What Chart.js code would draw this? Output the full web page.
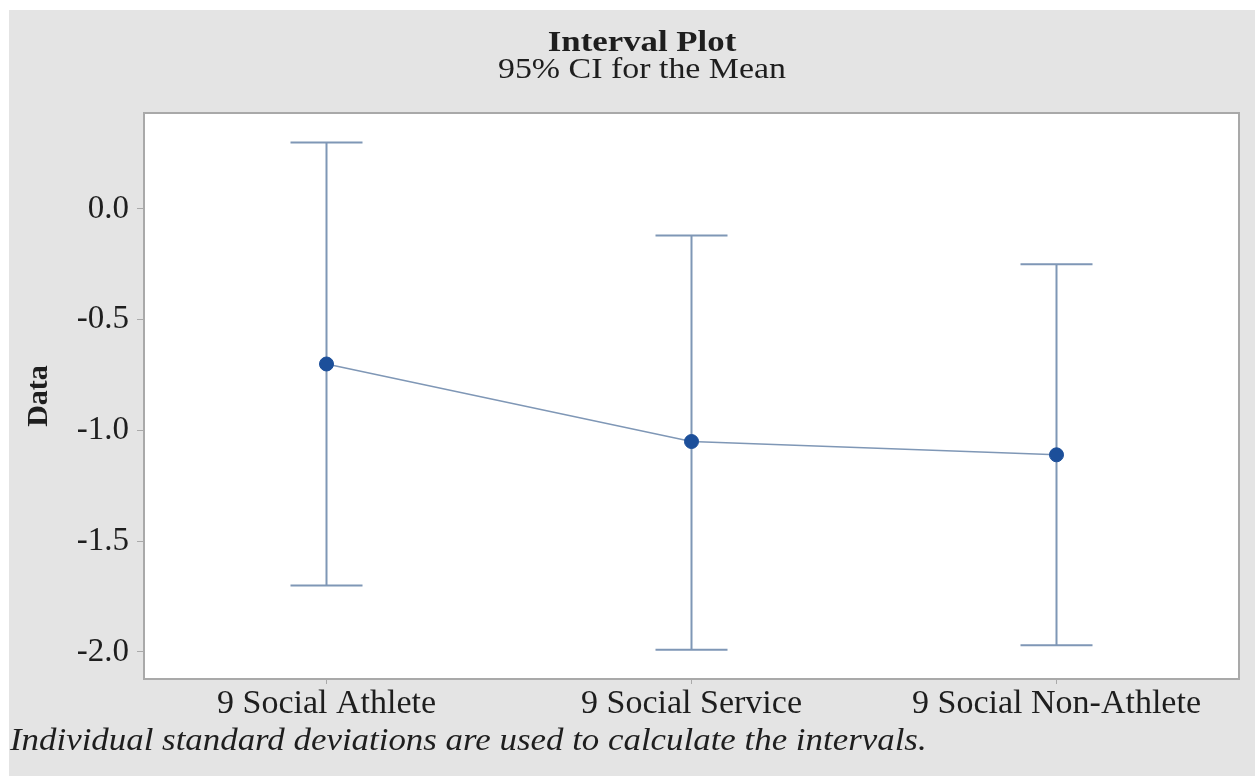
<!DOCTYPE html>
<html>
<head>
<meta charset="utf-8">
<script src="https://cdn.jsdelivr.net/npm/chart.js@4.4.1/dist/chart.umd.min.js"></script>
<style>
  html, body { margin: 0; padding: 0; background: #ffffff; }
  #wrap { position: absolute; left: 0; top: 0; width: 1255px; height: 777px; }
</style>
</head>
<body>
<div id="wrap"><canvas id="chart" width="1255" height="777"></canvas></div>
<script>
// categories and values
const groups = ['9 Social Athlete', '9 Social Service', '9 Social Non-Athlete'];
const means = [-0.70, -1.05, -1.11];
const lowerCI = [-1.70, -1.99, -1.97];
const upperCI = [0.30, -0.12, -0.25];
const yTicks = [0.0, -0.5, -1.0, -1.5, -2.0];

const SERIF = '"Liberation Serif", "Times New Roman", serif';
const TEXT = '#1e1e1e';
const BAR_COLOR = '#7f97b6';

// text in the original is a little wider than it is tall
function stretchedText(ctx, text, x, y, sx) {
    ctx.save();
    ctx.translate(x, y);
    ctx.scale(sx, 1);
    ctx.fillText(text, 0, 0);
    ctx.restore();
}

// gray page background, plot frame, titles and footnote
const frame = {
    id: 'frame',
    beforeDraw(chart) {
        const ctx = chart.ctx;
        const a = chart.chartArea;
        ctx.save();
        ctx.fillStyle = '#ffffff';
        ctx.fillRect(0, 0, chart.width, chart.height);
        ctx.fillStyle = '#e4e4e4';
        ctx.fillRect(9, 10, chart.width - 9, chart.height - 11);
        ctx.fillStyle = '#ffffff';
        ctx.fillRect(a.left, a.top, a.right - a.left, a.bottom - a.top);
        ctx.restore();
    },
    afterDraw(chart) {
        const ctx = chart.ctx;
        const a = chart.chartArea;
        ctx.save();
        ctx.strokeStyle = '#a9a9a9';
        ctx.lineWidth = 2;
        ctx.strokeRect(a.left, a.top, a.right - a.left, a.bottom - a.top);

        ctx.fillStyle = TEXT;
        ctx.textAlign = 'center';
        ctx.textBaseline = 'middle';
        ctx.font = 'bold 30px ' + SERIF;
        stretchedText(ctx, 'Interval Plot', 642, 43, 1.16);
        ctx.font = '30px ' + SERIF;
        stretchedText(ctx, '95% CI for the Mean', 642, 70, 1.13);

        ctx.textAlign = 'left';
        ctx.font = 'italic 31px ' + SERIF;
        stretchedText(ctx, 'Individual standard deviations are used to calculate the intervals.', 10, 742, 1.125);
        ctx.restore();
    }
};

// vertical CI bars with caps, drawn through the scales
const intervals = {
    id: 'intervals',
    beforeDatasetsDraw(chart) {
        const ctx = chart.ctx;
        const xs = chart.scales.x;
        const ys = chart.scales.y;
        ctx.save();
        ctx.strokeStyle = BAR_COLOR;
        ctx.lineWidth = 2;
        groups.forEach((g, i) => {
            const x = xs.getPixelForValue(i);
            const yLo = ys.getPixelForValue(lowerCI[i]);
            const yHi = ys.getPixelForValue(upperCI[i]);
            const cap = 36;
            ctx.beginPath();
            ctx.moveTo(x, yLo);
            ctx.lineTo(x, yHi);
            ctx.moveTo(x - cap, yHi);
            ctx.lineTo(x + cap, yHi);
            ctx.moveTo(x - cap, yLo);
            ctx.lineTo(x + cap, yLo);
            ctx.stroke();
        });
        ctx.restore();
    }
};

new Chart(document.getElementById('chart'), {
    type: 'line',
    data: {
        labels: groups,
        datasets: [{
            data: means,
            borderColor: BAR_COLOR,
            borderWidth: 1.5,
            pointRadius: 7,
            pointBackgroundColor: '#1c4f9a',
            pointBorderColor: '#1c4f9a',
            pointBorderWidth: 1,
            tension: 0
        }]
    },
    options: {
        responsive: false,
        animation: false,
        layout: { padding: { top: 113, right: 16, bottom: 0, left: 0 } },
        plugins: {
            legend: { display: false },
            tooltip: { enabled: false }
        },
        scales: {
            x: {
                type: 'category',
                offset: true,
                afterFit(scale) { scale.height = 98; },
                grid: { display: true, drawOnChartArea: false, tickLength: 5, color: '#a9a9a9' },
                border: { display: false },
                ticks: { color: TEXT, padding: 3, font: { family: SERIF, size: 34, lineHeight: 1.0 } }
            },
            y: {
                min: -2.122,
                max: 0.433,
                afterFit(scale) { scale.width = 144; },
                afterBuildTicks(scale) { scale.ticks = yTicks.map(v => ({ value: v })); },
                grid: { display: true, drawOnChartArea: false, tickLength: 7, color: '#a9a9a9' },
                border: { display: false },
                ticks: {
                    color: TEXT,
                    padding: 8,
                    font: { family: SERIF, size: 33 },
                    callback: v => v.toFixed(1)
                },
                title: {
                    display: true,
                    text: 'Data',
                    color: TEXT,
                    padding: { top: 21, bottom: 0 },
                    font: { family: SERIF, size: 30, weight: 'bold' }
                }
            }
        }
    },
    plugins: [frame, intervals]
});
</script>
</body>
</html>
